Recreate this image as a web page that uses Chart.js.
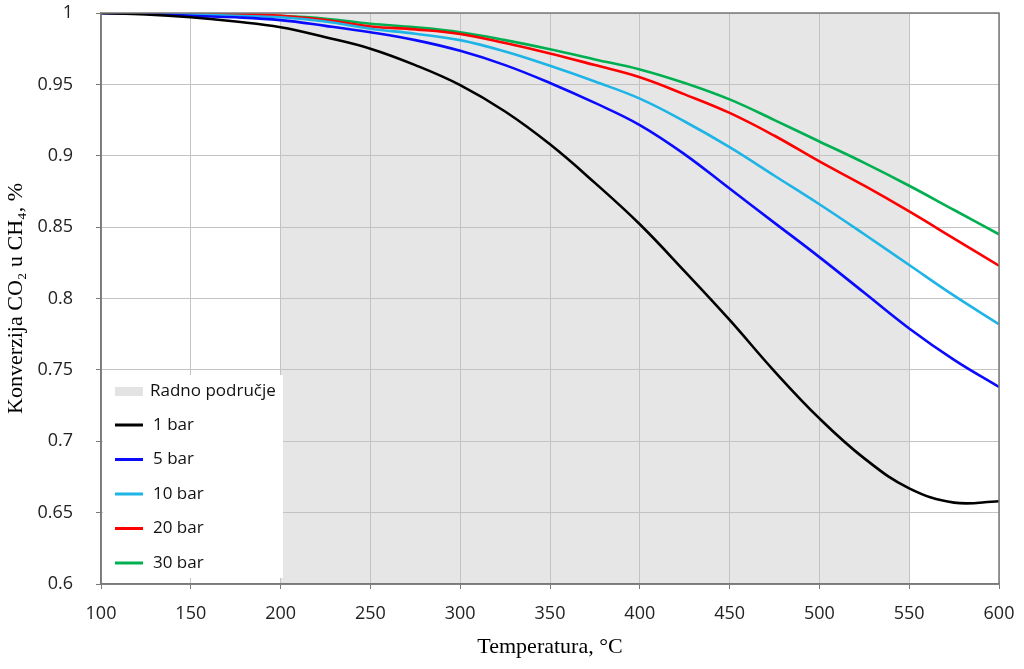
<!DOCTYPE html>
<html>
<head>
<meta charset="utf-8">
<script src="https://cdn.jsdelivr.net/npm/chart.js@4.4.0/dist/chart.umd.min.js"></script>
<style>
  html, body { margin: 0; padding: 0; background: #fff; }
  #wrap { width: 1024px; height: 669px; }
</style>
</head>
<body>
<div id="wrap"><canvas id="grafik" width="1024" height="669"></canvas></div>
<script>
// temperature, °C
const temps = [100, 125, 150, 175, 200, 225, 250, 275, 300, 325, 350, 375, 400, 425, 450, 475, 500, 525, 550, 575, 600];

// konverzija CO2 u CH4 pri razlicitim tlakovima
const bar1  = [1.000, 0.999, 0.997, 0.994, 0.990, 0.983, 0.975, 0.9635, 0.9495, 0.931, 0.908, 0.881, 0.852, 0.819, 0.785, 0.749, 0.716, 0.688, 0.667, 0.657, 0.658];
const bar5  = [1.000, 0.9995, 0.998, 0.997, 0.995, 0.991, 0.9865, 0.981, 0.9735, 0.9635, 0.951, 0.937, 0.9215, 0.901, 0.877, 0.853, 0.829, 0.804, 0.779, 0.757, 0.738];
const bar10 = [1.000, 0.9998, 0.999, 0.998, 0.997, 0.994, 0.989, 0.9855, 0.981, 0.973, 0.963, 0.952, 0.940, 0.924, 0.906, 0.886, 0.866, 0.845, 0.8235, 0.802, 0.782];
const bar20 = [1.000, 0.9998, 0.9993, 0.999, 0.998, 0.995, 0.9906, 0.9885, 0.9853, 0.979, 0.9717, 0.9635, 0.955, 0.943, 0.930, 0.914, 0.896, 0.879, 0.861, 0.842, 0.823];
const bar30 = [1.000, 0.9998, 0.9995, 0.999, 0.998, 0.996, 0.9925, 0.990, 0.9865, 0.981, 0.9746, 0.9675, 0.9605, 0.951, 0.9395, 0.925, 0.910, 0.895, 0.879, 0.862, 0.845];

const serije = ["1 bar", "5 bar", "10 bar", "20 bar", "30 bar"];
const boje = ["#000000", "#0a0aff", "#1eb4e6", "#ff0000", "#00b050"];

// radno podrucje (osjencano)
const radnoLabel = "Radno područje";
const radnoOd = 200;
const radnoDo = 550;

const xTicks = [100, 150, 200, 250, 300, 350, 400, 450, 500, 550, 600];

const tickFont = { family: "'Open Sans', sans-serif", size: 18 };
const titleFont = { family: "'Liberation Serif', 'Times New Roman', serif", size: 22 };

const sjena = {
  id: "sjena",
  beforeDraw(chart) {
    const { ctx, chartArea, scales } = chart;
    const x1 = scales.x.getPixelForValue(radnoOd);
    const x2 = scales.x.getPixelForValue(radnoDo);
    ctx.save();
    ctx.fillStyle = "#e6e6e6";
    ctx.fillRect(x1, chartArea.top, x2 - x1, chartArea.bottom - chartArea.top);
    ctx.restore();
  }
};

const okvir = {
  id: "okvir",
  afterDraw(chart) {
    const { ctx, chartArea } = chart;
    ctx.save();
    ctx.strokeStyle = "#7a7a7a";
    ctx.lineWidth = 1.5;
    ctx.strokeRect(chartArea.left, chartArea.top, chartArea.right - chartArea.left, chartArea.bottom - chartArea.top);
    ctx.restore();
  }
};

// legenda unutar grafa
const legenda = {
  id: "legenda",
  afterDatasetsDraw(chart) {
    const { ctx, chartArea } = chart;
    const x0 = chartArea.left + 2;
    const y0 = 375;
    ctx.save();
    ctx.fillStyle = "#ffffff";
    ctx.fillRect(x0, y0, 180, 203);
    ctx.font = "17px 'Open Sans', sans-serif";
    ctx.textBaseline = "middle";
    ctx.fillStyle = "#e3e3e3";
    ctx.fillRect(115, 387, 28, 9);
    ctx.fillStyle = "#111";
    ctx.fillText(radnoLabel, 150, 391);
    chart.data.datasets.forEach((ds, i) => {
      const y = 425 + i * 34.5;
      ctx.strokeStyle = ds.borderColor;
      ctx.lineWidth = 3;
      ctx.beginPath();
      ctx.moveTo(115, y);
      ctx.lineTo(143, y);
      ctx.stroke();
      ctx.fillStyle = "#111";
      ctx.fillText(ds.label, 153, y);
    });
    ctx.restore();
  }
};

new Chart(document.getElementById("grafik"), {
  type: "line",
  data: {
    datasets: [bar1, bar5, bar10, bar20, bar30].map((vals, i) => ({
      label: serije[i],
      data: vals.map((v, j) => ({ x: temps[j], y: v })),
      borderColor: boje[i],
      borderWidth: 2.6,
      pointRadius: 0,
      fill: false,
      tension: 0.4
    }))
  },
  options: {
    responsive: false,
    animation: false,
    layout: { padding: { top: 13, right: 25, left: 0, bottom: 0 } },
    plugins: {
      legend: { display: false },
      tooltip: { enabled: false }
    },
    scales: {
      x: {
        type: "linear",
        min: 100,
        max: 600,
        afterBuildTicks: s => { s.ticks = xTicks.map(v => ({ value: v })); },
        afterFit: s => { s.height = 85; s.paddingLeft = 0; s.paddingRight = 0; },
        grid: { color: "#c3c3c3", lineWidth: 1, tickLength: 5, tickColor: "#7a7a7a" },
        border: { color: "#7a7a7a", width: 1.5 },
        ticks: { font: tickFont, color: "#222", padding: 14, maxRotation: 0 },
        title: { display: true, text: "Temperatura, °C", font: titleFont, color: "#000", padding: { top: 0, bottom: 9 } }
      },
      y: {
        min: 0.6,
        max: 1,
        afterFit: s => { s.width = 101; s.paddingTop = 0; s.paddingBottom = 0; },
        grid: { color: "#c3c3c3", lineWidth: 1, tickLength: 5, tickColor: "#7a7a7a" },
        border: { color: "#7a7a7a", width: 1.5 },
        ticks: {
          stepSize: 0.05,
          font: tickFont,
          color: "#222",
          padding: 23,
          callback: v => String(parseFloat(v.toFixed(2)))
        },
        title: { display: true, text: "Konverzija CO₂ u CH₄, %", font: titleFont, color: "#000", padding: { top: 3, bottom: 0 } }
      }
    }
  },
  plugins: [sjena, legenda, okvir]
});
</script>
</body>
</html>
